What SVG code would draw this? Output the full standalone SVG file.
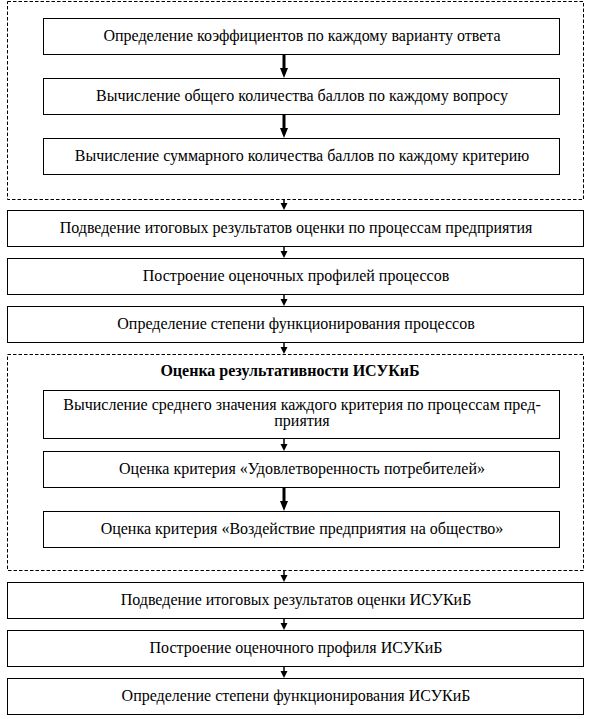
<svg xmlns="http://www.w3.org/2000/svg" width="592" height="719" viewBox="0 0 592 719">
<defs>
<style>
.box{fill:#fff;stroke:#000;stroke-width:1}
.grp{fill:none;stroke:#000;stroke-width:1;stroke-dasharray:3.5,2}
text{font-family:'Liberation Serif','Times New Roman','DejaVu Serif',serif;font-size:16px;fill:#000;text-anchor:middle}
.b{font-weight:bold}
.thin{stroke:#000;stroke-width:1.5;fill:none}
.thick{stroke:#000;stroke-width:3;fill:none}
.head{fill:#000}
</style>
</defs>
<rect width="592" height="719" fill="#fff"/>
<g id="group1"><rect class="grp" x="7.5" y="1.5" width="576" height="198"/></g>
<g id="group2"><rect class="grp" x="7.5" y="354.5" width="576" height="216"/>
<text class="b" x="290" y="376">Оценка результативности ИСУКиБ</text></g>
<g id="n1"><rect class="box" x="43.5" y="18.5" width="516" height="36"/><text x="302" y="41">Определение коэффициентов по каждому варианту ответа</text></g>
<g id="n2"><rect class="box" x="43.5" y="78.5" width="516" height="36"/><text x="302" y="101">Вычисление общего количества баллов по каждому вопросу</text></g>
<g id="n3"><rect class="box" x="43.5" y="138.5" width="516" height="36"/><text x="302" y="161">Вычисление суммарного количества баллов по каждому критерию</text></g>
<g id="n4"><rect class="box" x="7.5" y="210.5" width="576" height="36"/><text x="296" y="233">Подведение итоговых результатов оценки по процессам предприятия</text></g>
<g id="n5"><rect class="box" x="7.5" y="258.5" width="576" height="36"/><text x="296" y="281">Построение оценочных профилей процессов</text></g>
<g id="n6"><rect class="box" x="7.5" y="306.5" width="576" height="36"/><text x="296" y="329">Определение степени функционирования процессов</text></g>
<g id="n7"><rect class="box" x="43.5" y="390.5" width="516" height="48"/><text x="302" y="410">Вычисление среднего значения каждого критерия по процессам пред-</text><text x="302" y="426">приятия</text></g>
<g id="n8"><rect class="box" x="43.5" y="451.5" width="516" height="36"/><text x="302" y="474">Оценка критерия «Удовлетворенность потребителей»</text></g>
<g id="n9"><rect class="box" x="43.5" y="511.5" width="516" height="36"/><text x="302" y="534">Оценка критерия «Воздействие предприятия на общество»</text></g>
<g id="n10"><rect class="box" x="7.5" y="582.5" width="576" height="36"/><text x="296" y="605">Подведение итоговых результатов оценки ИСУКиБ</text></g>
<g id="n11"><rect class="box" x="7.5" y="630.5" width="576" height="36"/><text x="296" y="653">Построение оценочного профиля ИСУКиБ</text></g>
<g id="n12"><rect class="box" x="7.5" y="678.5" width="576" height="36"/><text x="296" y="701">Определение степени функционирования ИСУКиБ</text></g>
<g id="connectors">
<line class="thick" x1="284" y1="55" x2="284" y2="70"/><polygon class="head" points="280,68 288,68 284,78"/>
<line class="thick" x1="284" y1="115" x2="284" y2="130"/><polygon class="head" points="280,128 288,128 284,138"/>
<line class="thin" x1="284" y1="200" x2="284" y2="204"/><polygon class="head" points="280.5,203 287.5,203 284,210"/>
<line class="thin" x1="284" y1="247" x2="284" y2="252"/><polygon class="head" points="280.5,251 287.5,251 284,258"/>
<line class="thin" x1="284" y1="295" x2="284" y2="300"/><polygon class="head" points="280.5,299 287.5,299 284,306"/>
<line class="thin" x1="284" y1="343" x2="284" y2="348"/><polygon class="head" points="280.5,347 287.5,347 284,354"/>
<line class="thin" x1="284" y1="439" x2="284" y2="445"/><polygon class="head" points="280.5,444 287.5,444 284,451"/>
<line class="thick" x1="284" y1="488" x2="284" y2="503"/><polygon class="head" points="280,501 288,501 284,511"/>
<line class="thin" x1="284" y1="571" x2="284" y2="576"/><polygon class="head" points="280.5,575 287.5,575 284,582"/>
<line class="thin" x1="284" y1="619" x2="284" y2="624"/><polygon class="head" points="280.5,623 287.5,623 284,630"/>
<line class="thin" x1="284" y1="667" x2="284" y2="672"/><polygon class="head" points="280.5,671 287.5,671 284,678"/>
</g>
</svg>
